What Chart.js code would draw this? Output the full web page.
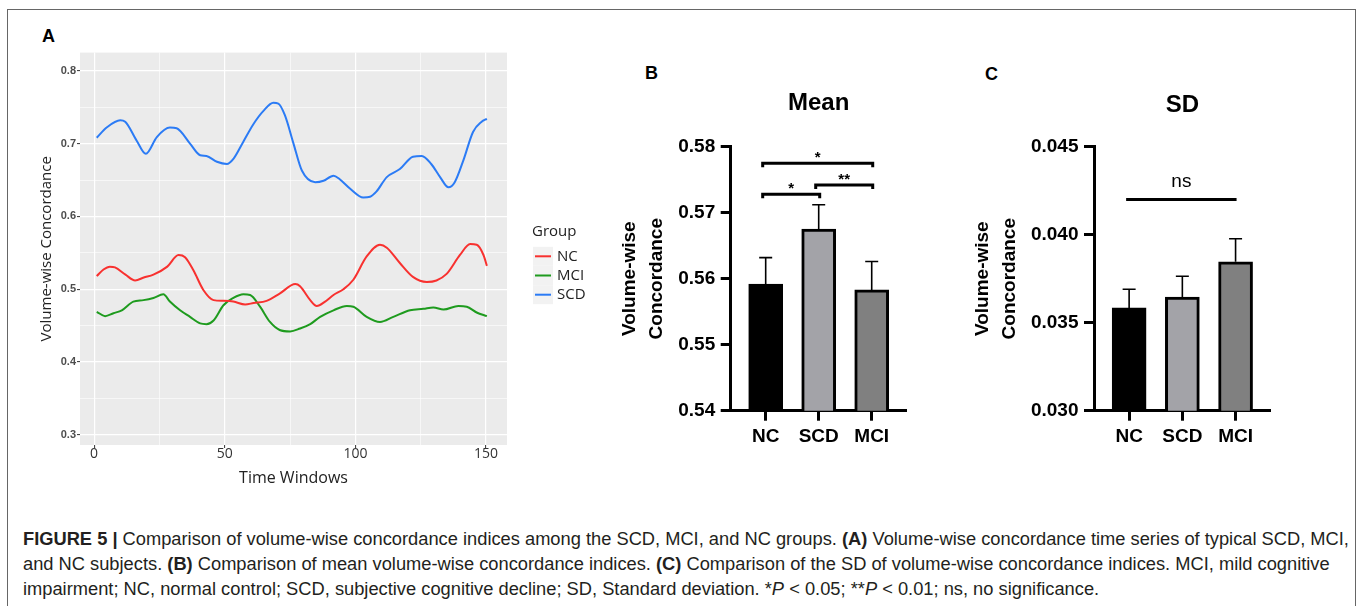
<!DOCTYPE html>
<html>
<head>
<meta charset="utf-8">
<script src="https://cdn.jsdelivr.net/npm/chart.js@4.4.1/dist/chart.umd.min.js"></script>
<style>
  body { margin: 0; background: #fff; width: 1360px; height: 606px; overflow: hidden; position: relative;
         font-family: "Liberation Sans", Arial, sans-serif; }
  .frame { position: absolute; left: 7px; top: 9px; width: 1349px; height: 620px; border: 1.5px solid #666; box-sizing: border-box; }
  .box { position: absolute; }
  .tag { position: absolute; font-weight: bold; font-size: 18px; line-height: 18px; color: #000; }
  .caption { position: absolute; left: 23px; top: 526px; font-size: 18.3px; line-height: 25px; color: #231f20; white-space: nowrap; }
</style>
</head>
<body>
<div class="frame"></div>
<div class="tag" style="left:42px;top:27px">A</div>
<div class="tag" style="left:645px;top:64px">B</div>
<div class="tag" style="left:985px;top:65px">C</div>

<div class="box" style="left:10px;top:45px;width:590px;height:445px"><canvas id="timeSeries"></canvas></div>
<div class="box" style="left:610px;top:60px;width:320px;height:400px"><canvas id="meanBars"></canvas></div>
<div class="box" style="left:963px;top:60px;width:320px;height:400px"><canvas id="sdBars"></canvas></div>

<div class="caption">
  <div><b>FIGURE 5 |</b> Comparison of volume-wise concordance indices among the SCD, MCI, and NC groups. <b>(A)</b> Volume-wise concordance time series of typical SCD, MCI,</div>
  <div>and NC subjects. <b>(B)</b> Comparison of mean volume-wise concordance indices. <b>(C)</b> Comparison of the SD of volume-wise concordance indices. MCI, mild cognitive</div>
  <div>impairment; NC, normal control; SCD, subjective cognitive decline; SD, Standard deviation. *<i>P</i> &lt; 0.05; **<i>P</i> &lt; 0.01; ns, no significance.</div>
</div>

<script>
// panel A - time series
const ncX = [1, 3.6, 6, 8, 12, 15.7, 19, 22.7, 28, 32.3, 34.8, 38, 41.8, 45.7, 49.5, 53.3, 57.8, 61, 66, 71,
  77, 78.8, 82.7, 85.2, 88.4, 91.6, 95.4, 99.2, 104.3, 109.4, 112, 117, 122, 127.3, 131, 134.9, 140, 143.9, 146.4, 149, 150.3];
const ncY = [0.518, 0.527, 0.531, 0.530, 0.520, 0.512, 0.516, 0.520, 0.531, 0.547, 0.544, 0.526, 0.499, 0.485, 0.484, 0.483, 0.479, 0.481, 0.484, 0.494,
  0.507, 0.504, 0.485, 0.477, 0.483, 0.492, 0.500, 0.513, 0.545, 0.561, 0.557, 0.536, 0.517, 0.510, 0.512, 0.521, 0.547, 0.562, 0.561, 0.547, 0.532];

const mciX = [1, 4.2, 7.4, 10.6, 15, 18.9, 22.7, 26.5, 29, 32.9, 36.7, 40.6, 43, 45.7, 49.5, 53.3, 57.1, 59.7, 63.5, 67.3,
  71, 75, 78.8, 82.7, 86.5, 91.6, 96.7, 99.2, 104.3, 109.4, 114.5, 120.9, 126, 129.8, 133.7, 139.4, 142.6, 146.4, 150.3];
const mciY = [0.469, 0.463, 0.467, 0.471, 0.483, 0.485, 0.488, 0.493, 0.483, 0.471, 0.462, 0.453, 0.452, 0.457, 0.478, 0.488, 0.493, 0.492, 0.476, 0.455,
  0.444, 0.442, 0.446, 0.452, 0.462, 0.471, 0.477, 0.476, 0.462, 0.455, 0.462, 0.471, 0.473, 0.475, 0.472, 0.477, 0.476, 0.468, 0.463];

const scdX = [1, 4.8, 10, 11.9, 16.3, 19.8, 24, 29, 31.6, 36.7, 40.6, 43, 47, 50.8, 53.3, 57, 61, 64.8, 68.6, 70.5,
  73, 76.3, 79.5, 84.6, 87.8, 91.6, 94, 98, 103, 105.6, 108, 112, 117, 122, 125.4, 129, 132.4, 135.6, 138, 141.3, 145, 148.3, 150.3];
const scdY = [0.708, 0.722, 0.732, 0.730, 0.704, 0.686, 0.709, 0.722, 0.721, 0.700, 0.684, 0.683, 0.675, 0.672, 0.679, 0.702, 0.727, 0.745, 0.756, 0.755,
  0.739, 0.700, 0.663, 0.647, 0.649, 0.656, 0.651, 0.638, 0.626, 0.627, 0.634, 0.654, 0.665, 0.682, 0.683, 0.672, 0.654, 0.640, 0.647, 0.677, 0.716, 0.730, 0.734];

const xTicksA = [0, 25, 50, 75, 100, 125, 150];
const yTicksA = [0.3, 0.35, 0.4, 0.45, 0.5, 0.55, 0.6, 0.65, 0.7, 0.75, 0.8];

// panels B and C
const groups = ['NC', 'SCD', 'MCI'];
const meanVals = [0.5592, 0.5675, 0.5583];
const meanErr = [0.0040, 0.0037, 0.0043];
const sdVals = [0.03584, 0.03646, 0.03846];
const sdErr = [0.00106, 0.00118, 0.00131];

// significance marks: from group, to group, height, text
const meanSigFrom = [0, 0, 1];
const meanSigTo = [2, 1, 2];
const meanSigY = [0.5775, 0.5728, 0.5742];
const meanSigText = ['*', '*', '**'];
const sdSigFrom = [0];
const sdSigTo = [2];
const sdSigY = [0.0420];
const sdSigText = ['ns'];

const lineColors = ['#F8312F', '#1E9B1E', '#2B7BF5'];
const barColors = ['#000000', '#A3A3A8', '#808080'];

const pts = (xs, ys) => xs.map((x, i) => ({ x: x, y: ys[i] }));
const isMajor = (v, step) => Math.abs(v / step - Math.round(v / step)) < 1e-6;

// grey ggplot panel
const panelBg = {
  id: 'panelBg',
  beforeDraw(chart) {
    const a = chart.chartArea;
    chart.ctx.save();
    chart.ctx.fillStyle = '#EBEBEB';
    chart.ctx.fillRect(a.left, a.top, a.right - a.left, a.bottom - a.top);
    chart.ctx.restore();
  }
};

// ggplot style legend on the right
const groupLegend = {
  id: 'groupLegend',
  afterDraw(chart) {
    const { ctx, chartArea } = chart;
    const x = chartArea.right + 25;
    const y0 = chartArea.top + 178.7;
    ctx.save();
    ctx.textBaseline = 'middle';
    ctx.font = '15px "Open Sans"';
    ctx.fillStyle = '#222';
    ctx.fillText('Group', x, y0);
    chart.data.datasets.forEach((ds, i) => {
      const y = y0 + 25 + i * 19.2;
      ctx.fillStyle = '#F2F2F2';
      ctx.fillRect(x + 1, y - 9.5, 20, 19);
      ctx.strokeStyle = ds.borderColor;
      ctx.lineWidth = 2;
      ctx.beginPath();
      ctx.moveTo(x + 3, y);
      ctx.lineTo(x + 19, y);
      ctx.stroke();
      ctx.fillStyle = '#222';
      ctx.fillText(ds.label, x + 25, y + 0.5);
    });
    ctx.restore();
  }
};

new Chart(document.getElementById('timeSeries'), {
  type: 'line',
  data: {
    datasets: [
      { label: 'NC', data: pts(ncX, ncY), borderColor: lineColors[0] },
      { label: 'MCI', data: pts(mciX, mciY), borderColor: lineColors[1] },
      { label: 'SCD', data: pts(scdX, scdY), borderColor: lineColors[2] }
    ]
  },
  options: {
    responsive: true,
    maintainAspectRatio: false,
    animation: false,
    layout: { padding: { top: 7, right: 93, left: 0, bottom: 0 } },
    elements: {
      line: { borderWidth: 2, cubicInterpolationMode: 'monotone' },
      point: { radius: 0 }
    },
    plugins: { legend: { display: false }, tooltip: { enabled: false } },
    scales: {
      x: {
        type: 'linear', min: -5.4, max: 158,
        afterBuildTicks: s => { s.ticks = xTicksA.map(v => ({ value: v })); },
        afterFit: s => { s.height = 45; },
        border: { display: false },
        grid: {
          color: '#FFFFFF',
          lineWidth: c => isMajor(c.tick.value, 50) ? 1.2 : 0.6,
          tickLength: 3, tickWidth: 1,
          tickColor: c => isMajor(c.tick.value, 50) ? '#333' : 'rgba(0,0,0,0)'
        },
        ticks: {
          padding: 0, color: '#333',
          font: { family: 'Open Sans', size: 14, lineHeight: 0.9 },
          callback: v => isMajor(v, 50) ? String(v) : ''
        },
        title: {
          display: true, text: 'Time Windows', color: '#222',
          font: { family: 'Open Sans', size: 16 }, padding: { top: 0, bottom: 2.4 }
        }
      },
      y: {
        min: 0.286, max: 0.825,
        afterBuildTicks: s => { s.ticks = yTicksA.map(v => ({ value: v })); },
        afterFit: s => { s.width = 70; },
        border: { display: false },
        grid: {
          color: '#FFFFFF',
          lineWidth: c => isMajor(c.tick.value, 0.1) ? 1.2 : 0.6,
          tickLength: 3, tickWidth: 1,
          tickColor: c => isMajor(c.tick.value, 0.1) ? '#333' : 'rgba(0,0,0,0)'
        },
        ticks: {
          padding: 1, color: '#4D4D4D',
          font: { family: 'Liberation Sans', size: 11, weight: 'bold' },
          callback: v => isMajor(v, 0.1) ? v.toFixed(1) : ''
        },
        title: {
          display: true, text: 'Volume-wise Concordance', color: '#222',
          font: { family: 'Open Sans', size: 15 }, padding: { top: 28, bottom: 0 }
        }
      }
    }
  },
  plugins: [panelBg, groupLegend]
});

// error bars (upper whisker only) and significance brackets
const barMarks = {
  id: 'barMarks',
  afterDatasetsDraw(chart, args, opts) {
    const { ctx } = chart;
    const xs = chart.scales.x, ys = chart.scales.y;
    ctx.save();
    ctx.strokeStyle = '#000';
    ctx.lineWidth = 1.6;
    opts.vals.forEach((v, i) => {
      const x = xs.getPixelForValue(i);
      const y1 = ys.getPixelForValue(v);
      const y2 = ys.getPixelForValue(v + opts.errs[i]);
      ctx.beginPath();
      ctx.moveTo(x, y1); ctx.lineTo(x, y2);
      ctx.moveTo(x - 6.5, y2); ctx.lineTo(x + 6.5, y2);
      ctx.stroke();
    });
    ctx.lineWidth = 3;
    ctx.fillStyle = '#000';
    ctx.textAlign = 'center';
    ctx.textBaseline = 'bottom';
    opts.sigY.forEach((yv, i) => {
      const xa = xs.getPixelForValue(opts.from[i]) - 3;
      const xb = xs.getPixelForValue(opts.to[i]) + 1;
      const y = ys.getPixelForValue(yv);
      ctx.beginPath();
      if (opts.ticks) {
        ctx.moveTo(xa, y + 4); ctx.lineTo(xa, y); ctx.lineTo(xb, y); ctx.lineTo(xb, y + 4);
      } else {
        ctx.moveTo(xa, y); ctx.lineTo(xb, y);
      }
      ctx.stroke();
      ctx.font = opts.ticks ? 'bold 15px "Liberation Sans"' : '19px "Liberation Sans"';
      ctx.fillText(opts.text[i], (xa + xb) / 2, opts.ticks ? y + 2 : y - 8);
    });
    ctx.restore();
  }
};

function barChart(id, title, vals, errs, yMin, yMax, yStep, digits, yWidth, padRight, titlePad, marks) {
  return new Chart(document.getElementById(id), {
    type: 'bar',
    data: {
      datasets: [{
        data: vals.map((v, i) => ({ x: i, y: v })),
        backgroundColor: barColors,
        borderColor: '#000',
        borderWidth: 3,
        borderSkipped: false,
        barThickness: 34
      }]
    },
    options: {
      responsive: true,
      maintainAspectRatio: false,
      animation: false,
      layout: { padding: { top: 0, right: padRight, left: 0, bottom: 0 } },
      plugins: {
        legend: { display: false },
        tooltip: { enabled: false },
        title: {
          display: true, text: title, color: '#000', fullSize: false,
          font: { family: 'Liberation Sans', size: 24, weight: 'bold', lineHeight: 1.2 },
          padding: titlePad
        },
        barMarks: marks
      },
      scales: {
        x: {
          type: 'linear', min: -0.66, max: 2.66, offset: false,
          afterBuildTicks: s => { s.ticks = groups.map((g, i) => ({ value: i })); },
          afterFit: s => { s.height = 49.3; },
          border: { display: true, color: '#000', width: 3 },
          grid: { offset: false, drawOnChartArea: false, tickLength: 10, tickWidth: 3, tickColor: '#000' },
          ticks: {
            padding: 4.6, color: '#000',
            font: { family: 'Liberation Sans', size: 19, weight: 'bold', lineHeight: 1.2 },
            callback: v => groups[v]
          }
        },
        y: {
          min: yMin, max: yMax,
          ticks: {
            stepSize: yStep, padding: 5.5, color: '#000',
            font: { family: 'Liberation Sans', size: 19, weight: 'bold' },
            callback: v => v.toFixed(digits)
          },
          afterFit: s => { s.width = yWidth; },
          border: { display: true, color: '#000', width: 3 },
          grid: { drawOnChartArea: false, tickLength: 10, tickWidth: 3, tickColor: '#000' },
          title: {
            display: true, text: ['Volume-wise', 'Concordance'], color: '#000',
            font: { family: 'Liberation Sans', size: 19, weight: 'bold', lineHeight: 1.4 },
            padding: { top: 6.7, bottom: 0 }
          }
        }
      }
    },
    plugins: [barMarks]
  });
}

barChart('meanBars', 'Mean', meanVals, meanErr, 0.54, 0.58, 0.01, 2, 120.7, 23.3,
  { top: 28.9, bottom: 29 },
  { vals: meanVals, errs: meanErr, from: meanSigFrom, to: meanSigTo, sigY: meanSigY, text: meanSigText, ticks: true });

barChart('sdBars', 'SD', sdVals, sdErr, 0.030, 0.045, 0.005, 3, 131, 12.3,
  { top: 30.6, bottom: 27.3 },
  { vals: sdVals, errs: sdErr, from: sdSigFrom, to: sdSigTo, sigY: sdSigY, text: sdSigText, ticks: false });
</script>
</body>
</html>
